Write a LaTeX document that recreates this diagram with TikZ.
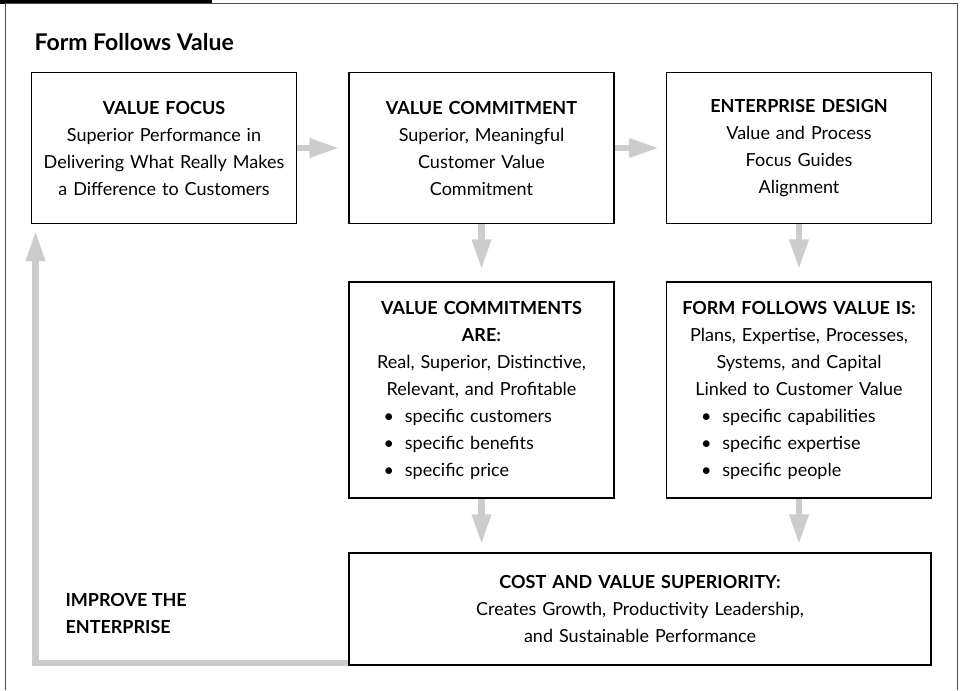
\documentclass[tikz,border=0pt]{standalone}
\usepackage{fontspec}
\setmainfont{Lato}
\usepackage{tikz}
\usetikzlibrary{arrows.meta,positioning}
\definecolor{arrowgray}{HTML}{CCCCCC}
\definecolor{framegray}{HTML}{4D4D4D}
\newcommand{\bul}[1]{\makebox[262pt][l]{\hspace*{33pt}\textbullet\hspace{11pt}#1}}

\begin{document}
\begin{tikzpicture}[x=1pt,y=-1pt,
    box/.style={draw,line width=1.2pt,align=center,text width=262pt,minimum width=265pt,
      inner sep=0pt,font=\fontsize{18}{27}\selectfont},
    flow/.style={arrowgray,line width=6.5pt,-{Triangle[length=30pt,width=18pt]}}]
    \useasboundingbox (0,0) rectangle (960,690);
    \fill (0,0) rectangle (212,4);
    \draw[framegray,line width=1pt] (5,690) -- (5,3.5) -- (957,3.5) -- (957,690);
    \node[anchor=west,font=\bfseries\fontsize{23}{26}\selectfont] (title) at (31,42) {Form Follows Value};
    \node[box,minimum height=151pt] (vf) at (164,148)
      {\textbf{VALUE FOCUS}\\Superior Performance in\\Delivering What Really Makes\\a Difference to Customers};
    \node[box,minimum height=151pt] (vc) at (481.5,148)
      {\textbf{VALUE COMMITMENT}\\Superior, Meaningful\\Customer Value\\Commitment};
    \node[box,minimum height=151pt] (ed) at (799,148)
      {\textbf{ENTERPRISE DESIGN}\\Value and Process\\Focus Guides\\Alignment};
    \node[box,minimum height=216pt] (vca) at (481.5,390)
      {\textbf{VALUE COMMITMENTS}\\\textbf{ARE:}\\Real, Superior, Distinctive,\\Relevant, and Profitable\\
       \bul{specific customers}\\\bul{specific benefits}\\\bul{specific price}};
    \node[box,minimum height=216pt] (ffv) at (799,390)
      {\textbf{FORM FOLLOWS VALUE IS:}\\Plans, Expertise, Processes,\\Systems, and Capital\\Linked to Customer Value\\
       \bul{specific capabilities}\\\bul{specific expertise}\\\bul{specific people}};
    \node[box,text width=570pt,minimum width=582pt,minimum height=112pt] (cost) at (640,609)
      {\textbf{COST AND VALUE SUPERIORITY:}\\Creates Growth, Productivity Leadership,\\and Sustainable Performance};
    \node[anchor=west,align=left,font=\bfseries\fontsize{18}{27}\selectfont] (improve) at (62,613)
      {IMPROVE THE\\ENTERPRISE};
    \coordinate (c1) at (vca.south |- cost.north);
    \coordinate (c2) at (ffv.south |- cost.north);
    \coordinate (back) at (35.5,231);
    \draw[flow] (vf.east) -- ([xshift=-9pt]vc.west);
    \draw[flow] (vc.east) -- ([xshift=-7pt]ed.west);
    \draw[flow] (vc.south) -- ([yshift=12pt]vca.north);
    \draw[flow] (ed.south) -- ([yshift=12pt]ffv.north);
    \draw[flow] (vca.south) -- ([yshift=8pt]c1);
    \draw[flow] (ffv.south) -- ([yshift=8pt]c2);
    \draw[flow] ([yshift=2.5pt]cost.south west) -| (back);
\end{tikzpicture}
\end{document}
